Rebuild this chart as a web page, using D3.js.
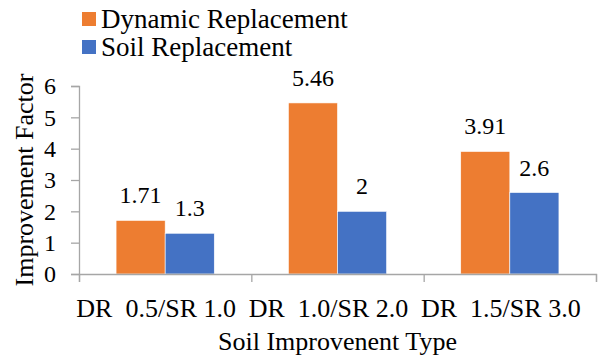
<!DOCTYPE html>
<html>
<head>
<meta charset="utf-8">
<script src="https://cdn.jsdelivr.net/npm/d3@7"></script>
<style>
  body { margin: 0; background: #fff; }
  svg text { font-family: "Liberation Serif", "Times New Roman", serif; fill: #000; }
</style>
</head>
<body>
<div id="chart"></div>
<script>
// data
var categories = ['DR\u00a0\u00a00.5/SR 1.0', 'DR\u00a0\u00a01.0/SR 2.0', 'DR\u00a0\u00a01.5/SR 3.0'];
var seriesNames = ['Dynamic Replacement', 'Soil Replacement'];
var dynamicValues = [1.71, 5.46, 3.91];
var soilValues = [1.3, 2, 2.6];
var yTicks = [0, 1, 2, 3, 4, 5, 6];
var colors = ['#ED7D31', '#4472C4'];

var width = 601, height = 360;
var margin = { left: 79, right: 5, top: 86, bottom: 86 };
var plotW = width - margin.left - margin.right;
var plotH = height - margin.top - margin.bottom;

var svg = d3.select('#chart')
    .append('svg')
    .attr('width', width)
    .attr('height', height);

var g = svg.append('g')
    .attr('transform', 'translate(' + margin.left + ',' + margin.top + ')');

// scales
var x0 = d3.scaleBand()
    .domain(categories)
    .range([0, plotW])
    .paddingInner(0)
    .paddingOuter(0);

var x1 = d3.scaleBand()
    .domain(seriesNames)
    .range([0, x0.bandwidth()])
    .paddingInner(0)
    .paddingOuter(0.755);

var yScale = d3.scaleLinear()
    .domain([0, 6])
    .range([plotH, 0]);

var rows = categories.map(function (c, i) {
    return { cat: c, values: [
        { name: seriesNames[0], v: dynamicValues[i], color: colors[0] },
        { name: seriesNames[1], v: soilValues[i], color: colors[1] }
    ] };
});

// bars
var groups = g.selectAll('.grp')
    .data(rows)
    .enter()
    .append('g')
    .attr('class', 'grp')
    .attr('transform', function (d) { return 'translate(' + x0(d.cat) + ',0)'; });

groups.selectAll('rect')
    .data(function (d) { return d.values; })
    .enter()
    .append('rect')
    .attr('x', function (d) { return x1(d.name); })
    .attr('y', function (d) { return yScale(d.v); })
    .attr('width', x1.bandwidth())
    .attr('height', function (d) { return plotH - yScale(d.v); })
    .style('fill', function (d) { return d.color; })
    .style('stroke', '#fff')
    .style('stroke-width', 0.6);

groups.selectAll('.val')
    .data(function (d) { return d.values; })
    .enter()
    .append('text')
    .attr('class', 'val')
    .attr('x', function (d) { return x1(d.name) + x1.bandwidth() / 2; })
    .attr('y', function (d) { return yScale(d.v) - 17; })
    .style('text-anchor', 'middle')
    .style('font-size', '24px')
    .text(function (d) { return d.v; });

// y axis
var yAxis = g.append('g')
    .call(d3.axisLeft(yScale).tickValues(yTicks).tickSize(8).tickPadding(15).tickFormat(d3.format('d')));
yAxis.selectAll('text').style('font-size', '24px');

// x axis: boundary ticks + labels
var xEdge = d3.scaleLinear().domain([0, categories.length]).range([0, plotW]);
g.append('g')
    .attr('transform', 'translate(0,' + plotH + ')')
    .call(d3.axisBottom(xEdge).tickValues(d3.range(categories.length + 1)).tickSize(8).tickFormat(''));

var xLabels = g.append('g')
    .attr('transform', 'translate(0,' + plotH + ')')
    .call(d3.axisBottom(x0).tickSize(0).tickPadding(25));
xLabels.select('.domain').remove();
xLabels.selectAll('text')
    .attr('dx', -9)
    .style('font-size', '26px');

svg.selectAll('.domain, .tick line').style('stroke', '#a6a6a6').style('stroke-width', 1.3);

// axis titles
svg.append('text')
    .attr('transform', 'translate(33,' + (margin.top + plotH / 2) + ') rotate(-90)')
    .style('text-anchor', 'middle')
    .style('font-size', '26px')
    .text('Improvement Factor');

svg.append('text')
    .attr('x', margin.left + plotW / 2)
    .attr('y', 350)
    .style('text-anchor', 'middle')
    .style('font-size', '26px')
    .text('Soil Improvenent Type');

// legend
var legend = svg.selectAll('.legend')
    .data(seriesNames)
    .enter()
    .append('g')
    .attr('class', 'legend')
    .attr('transform', function (d, i) { return 'translate(82,' + (12 + i * 28) + ')'; });

legend.append('rect')
    .attr('width', 14)
    .attr('height', 14)
    .style('fill', function (d, i) { return colors[i]; });

legend.append('text')
    .attr('x', 19)
    .attr('y', 16)
    .style('font-size', '27px')
    .text(function (d) { return d; });
</script>
</body>
</html>
